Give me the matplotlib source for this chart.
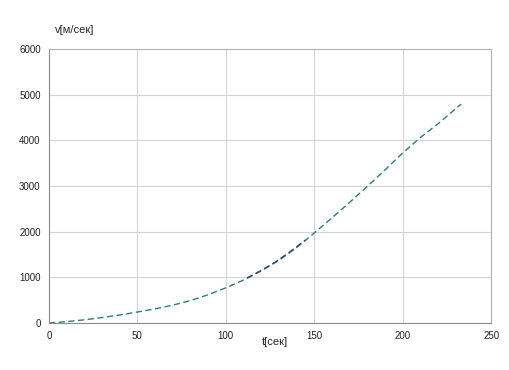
import matplotlib
matplotlib.use('Agg')
import matplotlib.pyplot as plt

# main curve v(t)
t_main = [0, 10, 20, 30, 40, 50, 60, 70, 80, 90, 100, 110, 120, 130, 140,
          150, 160, 170, 180, 190, 200, 210, 220, 233]
v_main = [0, 30, 70, 120, 175, 240, 310, 390, 490, 620, 770, 940, 1140, 1370,
          1650, 1970, 2300, 2640, 2990, 3350, 3720, 4060, 4360, 4790]

# second short segment
t_seg = [112, 120, 128, 136, 145]
v_seg = [985, 1150, 1335, 1550, 1815]

plt.rcParams['font.family'] = ['Liberation Sans', 'DejaVu Sans']

fig = plt.figure(figsize=(5.1, 3.7), dpi=100)
ax = fig.add_axes([0.096, 0.127, 0.867, 0.741])

ax.plot(t_main, v_main, color='#2f7a7a', linestyle=(0, (4.5, 2.5)), linewidth=1.0)
ax.plot(t_seg, v_seg, color='#3a4370', linestyle=(0, (4.5, 2.5)), linewidth=1.0)

ax.set_xlim(0, 250)
ax.set_ylim(0, 6000)
ax.set_xticks([0, 50, 100, 150, 200, 250])
ax.set_yticks([0, 1000, 2000, 3000, 4000, 5000, 6000])
ax.grid(True, color='#d4d4d4', linewidth=0.8)
ax.set_axisbelow(True)
ax.tick_params(length=0, labelsize=7, pad=6, colors='#222222')

for s in ['left', 'bottom']:
    ax.spines[s].set_color('#8c8c8c')
for s in ['right', 'top']:
    ax.spines[s].set_color('#b0b0b0')

fig.text(0.108, 0.912, 'v[м/сек]', fontsize=8, color='#222222')
fig.text(0.513, 0.068, 't[сек]', fontsize=8, color='#222222')

fig.savefig('out.png', dpi=100)
